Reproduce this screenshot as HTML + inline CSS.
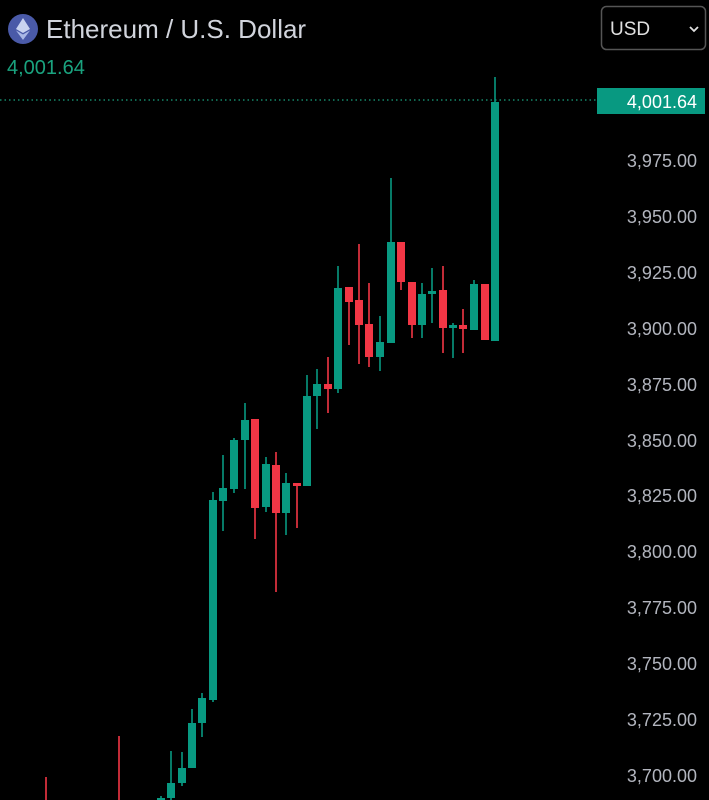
<!DOCTYPE html>
<html><head><meta charset="utf-8"><style>
html,body{margin:0;padding:0;background:#000;width:709px;height:800px;overflow:hidden;font-family:"Liberation Sans",sans-serif}
</style></head><body>
<svg width="709" height="800" xmlns="http://www.w3.org/2000/svg">
<rect width="709" height="800" fill="#000"/>
<circle cx="23" cy="29" r="15" fill="#4a5aa8"/>
<polygon points="23,18 30,29 23,33 16,29" fill="#c9d3f0"/>
<polygon points="23,34.5 30,30.5 23,40 16,30.5" fill="#aab8e6"/>
<text x="46" y="38" font-size="26" fill="#d1d4dc">Ethereum / U.S. Dollar</text>
<text x="7" y="74" font-size="20" fill="#1aa37f">4,001.64</text>
<rect x="601.5" y="6.5" width="104" height="43" rx="5" fill="#000" stroke="#555" stroke-width="1.5"/>
<text x="610" y="35" font-size="19" fill="#e0e0e0">USD</text>
<path d="M690 27 l4 4 l4 -4" stroke="#e0e0e0" stroke-width="1.8" fill="none"/>
<line x1="0" y1="100" x2="597" y2="100" stroke="#1aa37f" stroke-width="1.3" stroke-dasharray="1.5,3"/>
<rect x="597" y="88" width="108" height="26" fill="#089981"/>
<text x="697" y="108" font-size="18" fill="#fff" text-anchor="end">4,001.64</text>
<g font-size="18" fill="#b2b5be" text-anchor="end">
<text x="697" y="167">3,975.00</text>
<text x="697" y="223">3,950.00</text>
<text x="697" y="279">3,925.00</text>
<text x="697" y="335">3,900.00</text>
<text x="697" y="391">3,875.00</text>
<text x="697" y="447">3,850.00</text>
<text x="697" y="502">3,825.00</text>
<text x="697" y="558">3,800.00</text>
<text x="697" y="614">3,775.00</text>
<text x="697" y="670">3,750.00</text>
<text x="697" y="726">3,725.00</text>
<text x="697" y="782">3,700.00</text>
</g>
<g stroke-width="1.6">
<g stroke="#f23645">
<line x1="46" x2="46" y1="777" y2="800"/>
<line x1="119" x2="119" y1="736" y2="800"/>
<line x1="255" x2="255" y1="419" y2="539"/>
<line x1="276" x2="276" y1="452" y2="592"/>
<line x1="297" x2="297" y1="483" y2="528"/>
<line x1="328" x2="328" y1="357" y2="413"/>
<line x1="349" x2="349" y1="287" y2="345"/>
<line x1="359" x2="359" y1="244" y2="364"/>
<line x1="369" x2="369" y1="283" y2="367"/>
<line x1="401" x2="401" y1="242" y2="290"/>
<line x1="412" x2="412" y1="282" y2="338"/>
<line x1="443" x2="443" y1="266" y2="353"/>
<line x1="463" x2="463" y1="309" y2="353"/>
</g>
<g stroke="#089981">
<line x1="161" x2="161" y1="796" y2="800"/>
<line x1="171" x2="171" y1="751" y2="800"/>
<line x1="182" x2="182" y1="752" y2="786"/>
<line x1="192" x2="192" y1="709" y2="768"/>
<line x1="202" x2="202" y1="693" y2="737"/>
<line x1="213" x2="213" y1="492" y2="702"/>
<line x1="223" x2="223" y1="455" y2="531"/>
<line x1="234" x2="234" y1="438" y2="493"/>
<line x1="245" x2="245" y1="403" y2="489"/>
<line x1="266" x2="266" y1="457" y2="512"/>
<line x1="286" x2="286" y1="473" y2="535"/>
<line x1="307" x2="307" y1="375" y2="486"/>
<line x1="317" x2="317" y1="369" y2="429"/>
<line x1="338" x2="338" y1="266" y2="393"/>
<line x1="380" x2="380" y1="316" y2="371"/>
<line x1="391" x2="391" y1="178" y2="343"/>
<line x1="422" x2="422" y1="283" y2="338"/>
<line x1="432" x2="432" y1="268" y2="323"/>
<line x1="453" x2="453" y1="323" y2="358"/>
<line x1="474" x2="474" y1="280" y2="330"/>
<line x1="495" x2="495" y1="77" y2="341"/>
</g>
</g>
<g fill="#f23645">
<rect x="251" y="419" width="8" height="89"/>
<rect x="272" y="465" width="8" height="48"/>
<rect x="293" y="483" width="8" height="3"/>
<rect x="324" y="384" width="8" height="5"/>
<rect x="345" y="287" width="8" height="15"/>
<rect x="355" y="300" width="8" height="25"/>
<rect x="365" y="324" width="8" height="33"/>
<rect x="397" y="242" width="8" height="40"/>
<rect x="408" y="282" width="8" height="43"/>
<rect x="439" y="290" width="8" height="38"/>
<rect x="459" y="325" width="8" height="4"/>
<rect x="481" y="284" width="8" height="56"/>
</g>
<g fill="#089981">
<rect x="157" y="798" width="8" height="3"/>
<rect x="167" y="783" width="8" height="15"/>
<rect x="178" y="768" width="8" height="15"/>
<rect x="188" y="723" width="8" height="45"/>
<rect x="198" y="698" width="8" height="25"/>
<rect x="209" y="500" width="8" height="200"/>
<rect x="219" y="488" width="8" height="13"/>
<rect x="230" y="440" width="8" height="49"/>
<rect x="241" y="420" width="8" height="20"/>
<rect x="262" y="464" width="8" height="43"/>
<rect x="282" y="483" width="8" height="30"/>
<rect x="303" y="396" width="8" height="90"/>
<rect x="313" y="384" width="8" height="12"/>
<rect x="334" y="288" width="8" height="101"/>
<rect x="376" y="342" width="8" height="15"/>
<rect x="387" y="242" width="8" height="101"/>
<rect x="418" y="294" width="8" height="31"/>
<rect x="428" y="291" width="8" height="3"/>
<rect x="449" y="325" width="8" height="3"/>
<rect x="470" y="284" width="8" height="46"/>
<rect x="491" y="102" width="8" height="239"/>
</g>
</svg>
</body></html>
